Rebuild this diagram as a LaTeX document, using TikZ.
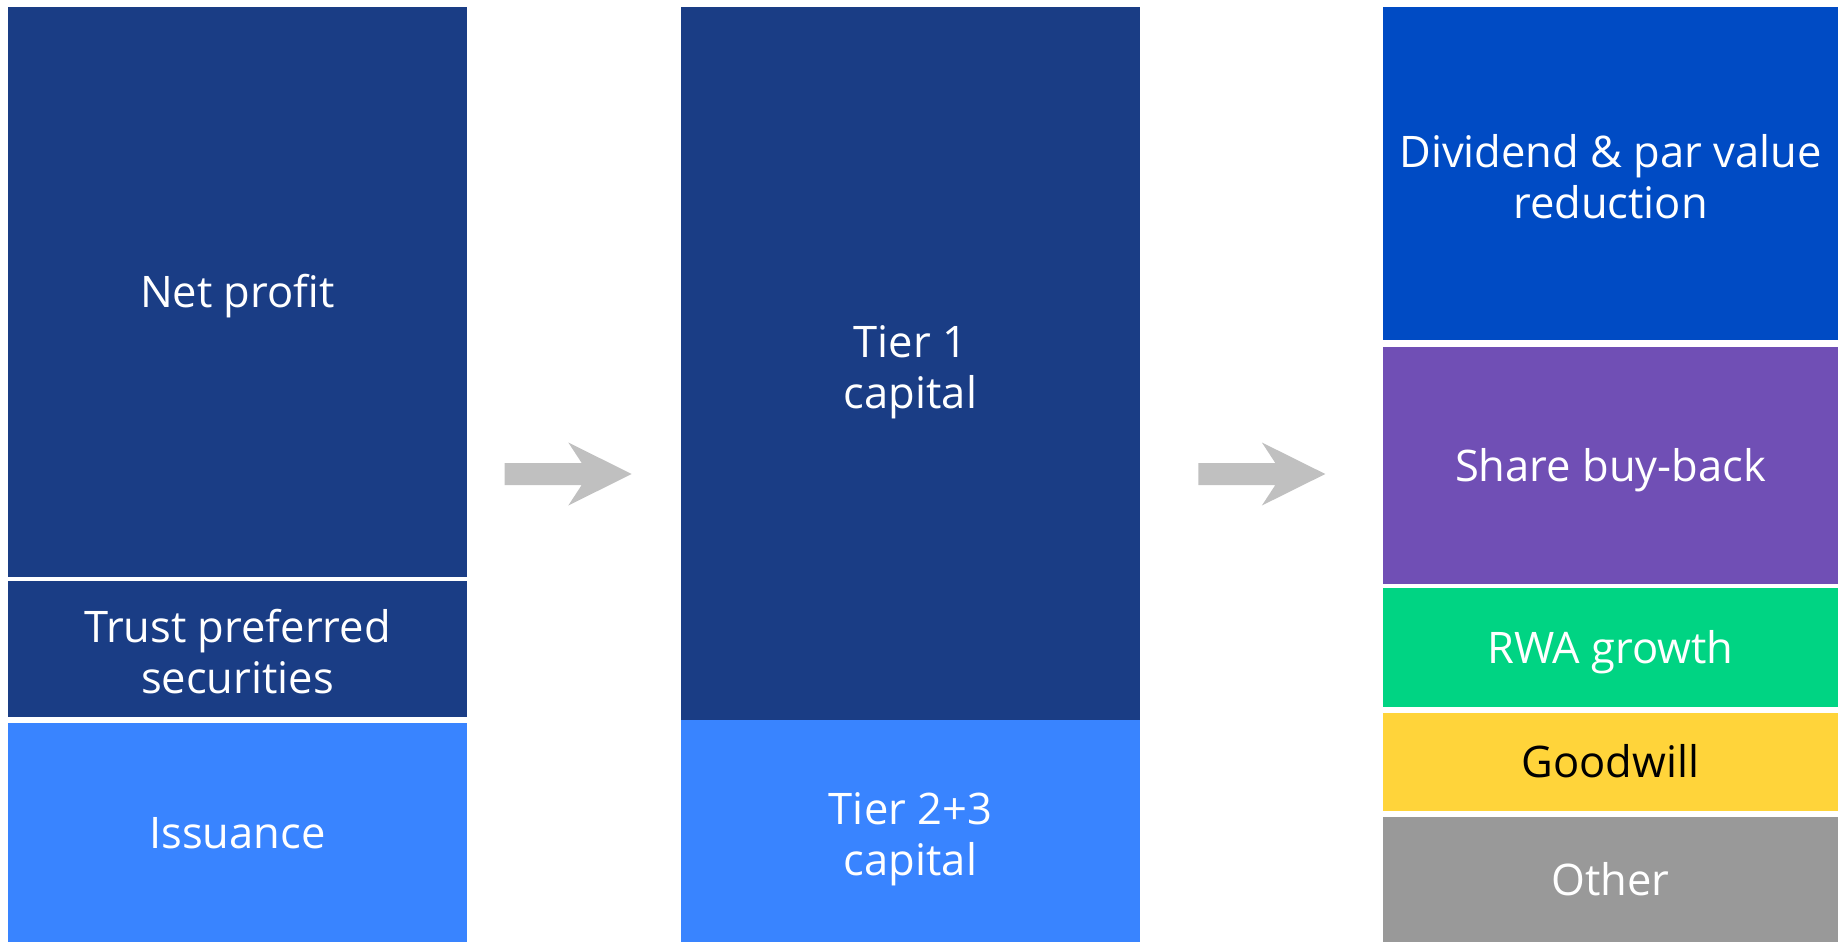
\documentclass[tikz,border=0pt]{standalone}
\usepackage{fontspec}
\setmainfont{Open Sans}
\usetikzlibrary{positioning}

\definecolor{capnavy}{HTML}{1A3D85}
\definecolor{capblue}{HTML}{3984FF}
\definecolor{divblue}{HTML}{004BC4}
\definecolor{buyback}{HTML}{704FB5}
\definecolor{rwagreen}{HTML}{00D483}
\definecolor{goodwillyellow}{HTML}{FFD43A}
\definecolor{othergray}{HTML}{999999}
\definecolor{arrowgray}{HTML}{C0C0C0}

\newcommand{\colwidth}{459pt}
\newcommand{\labelfont}{\fontsize{43.5}{51}\selectfont}

\tikzstyle{block} = [% one bar of a column
  rectangle,
  minimum width=\colwidth,
  inner sep=0pt,
  outer sep=0pt,
  align=center,
  text=white,
  font=\labelfont,
  execute at begin node={\rule{0pt}{0.964em}},% centre on the capitals
  execute at end node={\rule[-0.25em]{0pt}{0.25em}}
]
\tikzstyle{twolines} = [% two-line labels sit a bit lower
  execute at begin node={\rule{0pt}{2.3em}}
]

% grey block arrow between two columns, #1 = middle of the shaft start
\newcommand{\blockarrow}[1]{%
  \fill[arrowgray] (#1) ++(0,11pt) -- ++(77pt,0) -- ++(-13.4pt,20.5pt)
    -- ++(63.4pt,-31.5pt) -- ++(-63.4pt,-31.5pt) -- ++(13.4pt,20.5pt)
    -- ++(-77pt,0) -- cycle;}

\begin{document}
\begin{tikzpicture}[x=1pt, y=1pt]

\useasboundingbox (0,0) rectangle (1838,-942);

%%% Sources
\node[block, fill=capnavy, minimum height=570pt, anchor=north west] (netprofit) at (8,-7) {Net profit};
\node[block, twolines, fill=capnavy, minimum height=136pt] (trust) [below=4pt of netprofit] {Trust preferred\\securities};
\node[block, fill=capblue, minimum height=219pt] (issuance) [below=6pt of trust] {Issuance};

%%% Capital
\node[block, twolines, fill=capnavy, minimum height=713pt, anchor=north west] (tier1) at (681,-7) {Tier 1\\capital};
\node[block, twolines, fill=capblue, minimum height=222pt] (tier2) [below=0pt of tier1] {Tier 2+3\\capital};

%%% Uses
\node[block, twolines, fill=divblue, minimum width=455pt, minimum height=333pt, anchor=north west] (dividend) at (1383,-7) {Dividend \& par value\\reduction};
\node[block, fill=buyback, minimum width=455pt, minimum height=237pt] (buyback) [below=7pt of dividend] {Share buy-back};
\node[block, fill=rwagreen, minimum width=455pt, minimum height=119pt] (rwa) [below=4pt of buyback] {RWA growth};
\node[block, fill=goodwillyellow, minimum width=455pt, minimum height=98pt, text=black] (goodwill) [below=6pt of rwa] {Goodwill};
\node[block, fill=othergray, minimum width=455pt, minimum height=125pt] (other) [below=6pt of goodwill] {Other};

%%% Arrows
\coordinate (arrowA) at (504.7,-474);
\coordinate (arrowB) at (1198.3,-474);
\blockarrow{arrowA}
\blockarrow{arrowB}

\end{tikzpicture}
\end{document}
